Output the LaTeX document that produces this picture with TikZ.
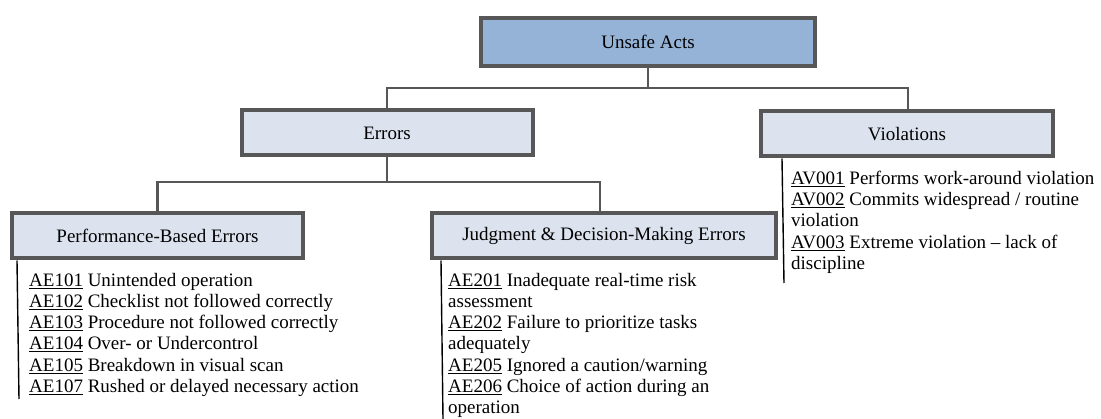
\documentclass[tikz,border=0pt]{standalone}
\usepackage{fontspec}
\setmainfont{Liberation Serif}[Ligatures=TeX]
\definecolor{topfill}{HTML}{95B3D7}
\definecolor{subfill}{HTML}{DCE3EF}
\definecolor{edge}{HTML}{575757}
\tikzset{
  catbox/.style={draw=edge, line width=4pt, inner sep=0pt, minimum height=45pt,
                 font=\rmfamily\fontsize{19}{21}\selectfont, text=black},
  link/.style={draw=edge, line width=2.5pt},
  rail/.style={draw=black, line width=1.4pt},
  itemlist/.style={anchor=north west, inner sep=0pt, align=left,
                   font=\rmfamily\fontsize{19}{21.2}\selectfont, text=black},
}
\newcommand{\code}[1]{\underline{#1}}
\begin{document}
\begin{tikzpicture}[x=1pt,y=-1pt]
\useasboundingbox (0,0) rectangle (1101,419);

% category boxes
\node[catbox, fill=topfill, minimum width=334pt, minimum height=48pt] (ua) at (648,42) {Unsafe Acts};
\node[catbox, fill=subfill, minimum width=291pt] (err) at (387,133) {Errors};
\node[catbox, fill=subfill, minimum width=292pt] (vio) at (907,134) {Violations};
\node[catbox, fill=subfill, minimum width=291pt] (pbe) at (157.5,236) {Performance-Based Errors};
\node[catbox, fill=subfill, minimum width=344pt] (jdm) at (604,236) {Judgment \& Decision-Making Errors};

% tree connectors
\coordinate (ua-split) at (648,88);
\coordinate (err-split) at (387,182);
\draw[link] (ua.south) -- (ua-split);
\draw[link] (ua-split) -| (err.north);
\draw[link] (ua-split) -| ([xshift=1pt]vio.north);
\draw[link] (err.south) -- (err-split);
\draw[link] (err-split) -| (pbe.north);
\draw[link] (err-split) -| ([xshift=-4pt]jdm.north);

% item rails
\coordinate (pbe-end) at (19,399);
\coordinate (jdm-end) at (443,419);
\coordinate (vio-end) at (784,283);
\draw[rail] ([xshift=7pt]pbe.south west) -- (pbe-end);
\draw[rail] ([xshift=11pt]jdm.south west) -- (jdm-end);
\draw[rail] ([xshift=23pt]vio.south west) -- (vio-end);

% item lists
\node[itemlist] (pbe-items) at (29,273) {%
\code{AE101} Unintended operation\\
\code{AE102} Checklist not followed correctly\\
\code{AE103} Procedure not followed correctly\\
\code{AE104} Over- or Undercontrol\\
\code{AE105} Breakdown in visual scan\\
\code{AE107} Rushed or delayed necessary action};

\node[itemlist] (jdm-items) at (448,273) {%
\code{AE201} Inadequate real-time risk\\
assessment\\
\code{AE202} Failure to prioritize tasks\\
adequately\\
\code{AE205} Ignored a caution/warning\\
\code{AE206} Choice of action during an\\
operation};

\node[itemlist] (vio-items) at (791,171) {%
\code{AV001} Performs work-around violation\\
\code{AV002} Commits widespread / routine\\
violation\\
\code{AV003} Extreme violation -- lack of\\
discipline};
\end{tikzpicture}
\end{document}
